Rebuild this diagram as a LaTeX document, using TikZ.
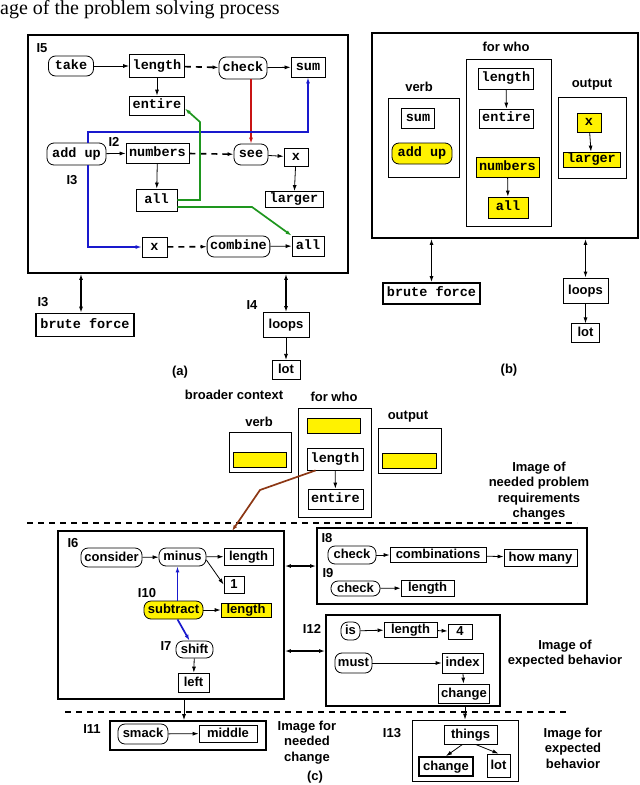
\documentclass[tikz,border=0pt]{standalone}
\usepackage{fontspec}
\setmainfont{Liberation Serif}
\setsansfont{Liberation Sans}
\setmonofont{Liberation Mono}
\usepackage{xcolor}
\usepackage{tikz}
\usetikzlibrary{arrows.meta}
\usetikzlibrary{shapes,arrows,positioning}
\newcommand\monotext{\fontsize{13.5}{15}\selectfont\ttfamily\bfseries}
\newcommand\sanstext{\fontsize{13}{15.5}\selectfont\sffamily\bfseries}
\definecolor{path-blue}{RGB}{25,25,205}
\definecolor{path-green}{RGB}{30,150,30}
\definecolor{path-red}{RGB}{200,20,20}
\definecolor{path-brown}{RGB}{140,55,20}
\tikzset{>={Latex[length=6pt, width=4pt]}}
\tikzset{link-line/.style={line width=0.8pt}}
\tikzset{gap-line/.style={line width=1.6pt, dash pattern=on 6pt off 5pt}}
\tikzset{dual-line/.style={<->, line width=1.4pt}}
\tikzset{cut-line/.style={line width=1.4pt, dash pattern=on 6pt off 5pt}}
\tikzset{blue-line/.style={line width=1.7pt, color=path-blue}}
\tikzset{green-line/.style={line width=1.7pt, color=path-green}}
\tikzset{red-line/.style={line width=1.7pt, color=path-red}}
\tikzset{brown-line/.style={line width=1.7pt, color=path-brown}}
\tikzset{code-node/.style={draw, line width=0.8pt, font=\monotext, inner xsep=3pt, inner ysep=1pt, text height=9pt, text depth=3pt, minimum height=20pt}}
\tikzset{code-act/.style={code-node, rounded corners=7pt}}
\tikzset{word-node/.style={draw, line width=0.8pt, font=\sanstext, inner xsep=3pt, inner ysep=1pt, text height=9.5pt, text depth=2.5pt, minimum height=18pt}}
\tikzset{word-act/.style={word-node, rounded corners=7pt}}
\tikzset{hl-node/.style={fill=yellow}}
\tikzset{frame-node/.style={draw, line width=1.8pt, inner sep=0}}
\tikzset{group-node/.style={draw, line width=0.8pt, inner sep=0}}
\tikzset{tag-text/.style={font=\sanstext, inner sep=1pt}}
\begin{document}
\begin{tikzpicture}[x=1pt, y=-1pt]
            \useasboundingbox (0,0) rectangle (640,785);
            \node[font=\fontsize{20}{22}\selectfont, anchor=base west, inner sep=0] (cut-caption) at (0,14.5) {age of the problem solving process};

            % (a)
            \node[frame-node, minimum width=320pt, minimum height=238pt] (frame-a) at (188,154) {};
            \node[tag-text] (tag-i5) at (42,48) {I5};
            \node[tag-text] (tag-i2) at (114,142) {I2};
            \node[tag-text] (tag-i3) at (72,180) {I3};

            \node[code-act, minimum width=45pt] (take) at (71,66) {take};
            \node[code-node, minimum width=55pt, minimum height=23pt] (length-a) at (157,66) {length};
            \node[code-act, minimum width=48pt, minimum height=22pt] (check-a) at (243,68) {check};
            \node[code-node, minimum width=34pt] (sum-a) at (308,67) {sum};
            \node[code-node, minimum width=55pt, minimum height=19pt] (entire-a) at (157,105.5) {entire};

            \node[code-act, minimum width=59pt, minimum height=22pt] (addup-a) at (76.5,154) {add up};
            \node[code-node, minimum width=63pt] (numbers-a) at (157.5,153) {numbers};
            \node[code-act, minimum width=34pt, minimum height=21pt] (see-a) at (251,154.5) {see};
            \node[code-node, minimum width=24pt, minimum height=18pt] (x-a) at (296,157) {x};
            \node[code-node, minimum width=41pt, minimum height=22pt] (all-a) at (156.5,200) {all};
            \node[code-node, minimum width=58pt, minimum height=16pt] (larger-a) at (294,199.5) {larger};

            \node[code-node, minimum width=25pt] (x-low) at (154.5,247) {x};
            \node[code-act, minimum width=61pt, minimum height=21pt] (combine) at (238.5,246.5) {combine};
            \node[code-node, minimum width=32pt] (all-low) at (308,246) {all};

            \draw[->, link-line] (take) -- (length-a);
            \draw[->, gap-line] (length-a) -- (check-a);
            \draw[->, link-line] (check-a) -- (sum-a);
            \draw[->, link-line] (length-a) -- (entire-a);
            \draw[->, link-line] (addup-a) -- (numbers-a);
            \draw[->, gap-line] (numbers-a) -- (see-a);
            \draw[->, link-line] (see-a) -- (x-a);
            \draw[->, link-line] (x-a) -- (larger-a);
            \draw[->, link-line] (numbers-a) -- (all-a);
            \draw[->, gap-line] (x-low) -- (combine);
            \draw[->, link-line] (combine) -- (all-low);

            \draw[->, red-line] (see-a.north |- check-a.south) -- (see-a.north);
            \coordinate (blue-top) at (88,132);
            \draw[->, blue-line] (addup-a.north -| blue-top) -- (blue-top) -| (sum-a.south);
            \draw[->, blue-line] (addup-a.south -| blue-top) |- (x-low.west);
            \coordinate (green-knee) at (200,122);
            \coordinate (green-bend) at (252,207);
            \draw[->, green-line] (all-a.east) -| (green-knee) -- ([yshift=-3pt]entire-a.east);
            \draw[->, green-line] ([yshift=-7pt]all-a.east) -- (green-bend) -- (all-low.north west);

            \node[code-node, line width=1.6pt, minimum width=98pt, minimum height=23pt] (brute-a) at (85,325) {brute force};
            \node[word-node, minimum width=46pt, minimum height=25pt] (loops-a) at (286,325) {loops};
            \node[word-node, minimum width=28pt, minimum height=19pt, below=22pt of loops-a.south, anchor=north] (lot-a) {lot};
            \coordinate (brute-a-in) at ([xshift=-4pt]brute-a.north);
            \draw[dual-line] (frame-a.south -| brute-a-in) -- (brute-a-in);
            \draw[dual-line] (frame-a.south -| loops-a.north) -- (loops-a.north);
            \draw[->, link-line] (loops-a) -- (lot-a);
            \node[tag-text] (tag-i3-low) at (43,302) {I3};
            \node[tag-text] (tag-i4) at (252,305) {I4};
            \node[tag-text] (cap-a) at (180,372) {(a)};

            % (b)
            \node[frame-node, minimum width=266pt, minimum height=205pt] (frame-b) at (505,135.5) {};
            \node[tag-text] (head-forwho-b) at (506,47) {for who};
            \node[tag-text] (head-verb-b) at (419,87) {verb};
            \node[tag-text] (head-output-b) at (592,85) {output};

            \node[group-node, minimum width=71pt, minimum height=79pt] (verb-b) at (423.5,137.5) {};
            \node[code-node, minimum width=33pt] (sum-b) at (418,118) {sum};
            \node[code-act, hl-node, minimum width=60pt, minimum height=21pt] (addup-b) at (422,153.5) {add up};

            \node[group-node, minimum width=85pt, minimum height=167pt] (forwho-b) at (508.5,142.5) {};
            \node[code-node, minimum width=54pt, minimum height=21pt] (length-b) at (506,78.5) {length};
            \node[code-node, minimum width=53pt, minimum height=19pt] (entire-b) at (506.5,118.5) {entire};
            \node[code-node, hl-node, minimum width=63pt] (numbers-b) at (507.5,167) {numbers};
            \node[code-node, hl-node, minimum width=40pt, minimum height=21pt] (all-b) at (508,207.5) {all};

            \node[group-node, minimum width=68pt, minimum height=81pt] (output-b) at (592,137.5) {};
            \node[code-node, hl-node, minimum width=24pt, minimum height=19pt] (x-b) at (589,122.5) {x};
            \node[code-node, hl-node, minimum width=57pt, minimum height=15pt] (larger-b) at (591.5,159.5) {larger};

            \draw[->, link-line] (length-b) -- (entire-b);
            \draw[->, link-line] (numbers-b) -- (all-b);
            \draw[->, link-line] (x-b) -- (larger-b);

            \node[code-node, line width=1.6pt, minimum width=97pt, minimum height=21pt] (brute-b) at (431.5,293.5) {brute force};
            \node[word-node, minimum width=45pt, minimum height=25pt] (loops-b) at (585.5,290.5) {loops};
            \node[word-node, minimum width=28pt, minimum height=19pt, below=20pt of loops-b.south, anchor=north] (lot-b) {lot};
            \draw[dual-line] (frame-b.south -| brute-b.north) -- (brute-b.north);
            \draw[dual-line] (frame-b.south -| loops-b.north) -- (loops-b.north);
            \draw[->, link-line] (loops-b) -- (lot-b);
            \node[tag-text] (cap-b) at (509,370) {(b)};

            % (c)
            \node[tag-text] (head-context) at (234,395) {broader context};
            \node[tag-text] (head-forwho-c) at (334,397) {for who};
            \node[tag-text] (head-verb-c) at (259,422) {verb};
            \node[tag-text] (head-output-c) at (408,417) {output};

            \node[group-node, minimum width=62pt, minimum height=40pt] (verb-c) at (260,452) {};
            \node[group-node, hl-node, minimum width=53pt, minimum height=15pt] (verb-slot) at (259.5,459.5) {};
            \node[group-node, minimum width=73pt, minimum height=109pt] (forwho-c) at (334.5,462.5) {};
            \node[group-node, hl-node, minimum width=53pt, minimum height=15pt] (forwho-slot) at (333.5,425.5) {};
            \node[code-node, minimum width=56pt, minimum height=22pt] (length-c) at (335,459) {length};
            \node[code-node, minimum width=55pt, minimum height=20pt] (entire-c) at (335.5,499) {entire};
            \node[group-node, minimum width=63pt, minimum height=45pt] (output-c) at (409.5,450.5) {};
            \node[group-node, hl-node, minimum width=54pt, minimum height=15pt] (output-slot) at (409,460.5) {};
            \draw[->, link-line] (length-c) -- (entire-c);

            \node[tag-text, align=center] (note-needed) at (539,491) {Image of\\needed problem\\requirements\\changes};
            \coordinate (cut-top-l) at (27,523);
            \coordinate (cut-top-r) at (577,523);
            \draw[cut-line] (cut-top-l) -- (cut-top-r);

            \node[frame-node, minimum width=226pt, minimum height=168pt] (frame-i6) at (171,615) {};
            \coordinate (brown-bend) at (260,490);
            \coordinate (brown-end) at (232,531);
            \draw[->, brown-line] ([xshift=9pt]length-c.south west) -- (brown-bend) -- (brown-end);

            \node[tag-text] (tag-i6) at (73,543) {I6};
            \node[tag-text] (tag-i10) at (147,593) {I10};
            \node[tag-text] (tag-i7) at (166,646) {I7};
            \node[word-act, minimum width=61pt, minimum height=19pt] (consider) at (111.5,557.5) {consider};
            \node[word-act, minimum width=47pt, minimum height=18pt] (minus) at (182.5,557) {minus};
            \node[word-node, minimum width=49pt, minimum height=17pt] (length-i6) at (248.5,556.5) {length};
            \node[word-node, minimum width=20pt, minimum height=17pt] (one) at (234,584.5) {1};
            \node[word-act, hl-node, minimum width=59pt, minimum height=18pt] (subtract) at (173.5,610) {subtract};
            \node[word-node, hl-node, minimum width=50pt, minimum height=14pt] (length-i10) at (246,610) {length};
            \node[word-act, minimum width=37pt, minimum height=17pt] (shift) at (194.5,649.5) {shift};
            \node[word-node, minimum width=31pt, minimum height=19pt] (left) at (193.5,682.5) {left};

            \draw[->, link-line] (consider) -- (minus);
            \draw[->, link-line] (minus) -- (length-i6);
            \draw[->, link-line] ([yshift=-3pt]minus.east) -- (one.west);
            \draw[->, link-line] (subtract) -- (length-i10);
            \coordinate (blue-up) at ([xshift=4pt]subtract.north);
            \draw[->, blue-line] (blue-up) -- (blue-up |- minus.south);
            \draw[->, blue-line] ([xshift=4pt]subtract.south) -- ([xshift=-5pt]shift.north);
            \draw[->, link-line] (shift) -- (left);

            \node[frame-node, minimum width=270pt, minimum height=76pt] (frame-i8) at (452,566) {};
            \node[tag-text] (tag-i8) at (327,538) {I8};
            \node[tag-text] (tag-i9) at (328,573) {I9};
            \node[word-act, minimum width=48pt, minimum height=18pt] (check-i8) at (352,555) {check};
            \node[word-node, minimum width=96pt, minimum height=15pt] (combinations) at (438,555) {combinations};
            \node[word-node, minimum width=73pt, minimum height=17pt] (how-many) at (540.5,557.5) {how many};
            \node[word-act, minimum width=49pt, minimum height=15pt] (check-i9) at (355.5,588.5) {check};
            \node[word-node, minimum width=53pt, minimum height=16pt] (length-i9) at (427.5,588) {length};
            \draw[->, link-line] (check-i8) -- (combinations);
            \draw[->, link-line] (combinations) -- (how-many);
            \draw[->, link-line] (check-i9) -- (length-i9);
            \draw[dual-line] (frame-i6.east |- frame-i8.west) -- (frame-i8.west);

            \node[frame-node, minimum width=174pt, minimum height=91pt] (frame-i12) at (413,660.5) {};
            \node[tag-text] (tag-i12) at (312,629) {I12};
            \coordinate (i12-in) at ([yshift=9.5pt]frame-i12.west);
            \draw[dual-line] (frame-i6.east |- i12-in) -- (i12-in);
            \node[word-act, minimum width=19pt, minimum height=18pt] (is) at (350.5,631) {is};
            \node[word-node, minimum width=53pt, minimum height=15pt] (length-i12) at (410.5,629.5) {length};
            \node[word-node, minimum width=24pt, minimum height=15pt] (four) at (460,631.5) {4};
            \node[word-act, minimum width=37pt, minimum height=20pt] (must) at (353.5,663) {must};
            \node[word-node, minimum width=41pt, minimum height=20pt] (index) at (462.5,663) {index};
            \node[word-node, minimum width=50pt, minimum height=19pt] (change-i12) at (464,693.5) {change};
            \draw[->, link-line] (is) -- (length-i12);
            \draw[->, link-line] (length-i12) -- (four);
            \draw[->, link-line] (must) -- (index);
            \draw[->, link-line] (index) -- (change-i12);
            \node[tag-text, align=center] (note-expected) at (565,653.5) {Image of\\expected behavior};

            \coordinate (cut-low-l) at (65,712);
            \coordinate (cut-low-r) at (570,712);
            \draw[cut-line] (cut-low-l) -- (cut-low-r);

            \node[frame-node, minimum width=156pt, minimum height=29pt] (frame-i11) at (188,735.5) {};
            \coordinate (i11-in) at ([xshift=-4pt]frame-i11.north);
            \draw[->, link-line] (frame-i6.south -| i11-in) -- (i11-in);
            \node[tag-text] (tag-i11) at (92,729) {I11};
            \node[word-act, minimum width=50pt, minimum height=20pt] (smack) at (143,734) {smack};
            \node[word-node, minimum width=58pt, minimum height=17pt] (middle) at (228,733.5) {middle};
            \draw[->, link-line] (smack) -- (middle);
            \node[tag-text, align=center] (note-change) at (307,742.5) {Image for\\needed\\change};
            \node[tag-text] (cap-c) at (315,777) {(c)};

            \node[group-node, minimum width=106pt, minimum height=61pt] (frame-i13) at (465,750.5) {};
            \draw[->, link-line] (frame-i12.south -| frame-i13.north) -- (frame-i13.north);
            \node[tag-text] (tag-i13) at (392,733) {I13};
            \node[word-node, minimum width=53pt, minimum height=19pt] (things) at (470.5,734.5) {things};
            \node[word-node, line width=1.8pt, minimum width=54pt, minimum height=19pt] (change-i13) at (446,766.5) {change};
            \node[word-node, minimum width=23pt, minimum height=23pt] (lot-i13) at (498.5,765.5) {lot};
            \draw[->, link-line] ([xshift=-8pt]things.south) -- (change-i13.north);
            \draw[->, link-line] ([xshift=5pt]things.south) -- (lot-i13.north);
            \node[tag-text, align=center] (note-behavior) at (573,748) {Image for\\expected\\behavior};
        \end{tikzpicture}
\end{document}
